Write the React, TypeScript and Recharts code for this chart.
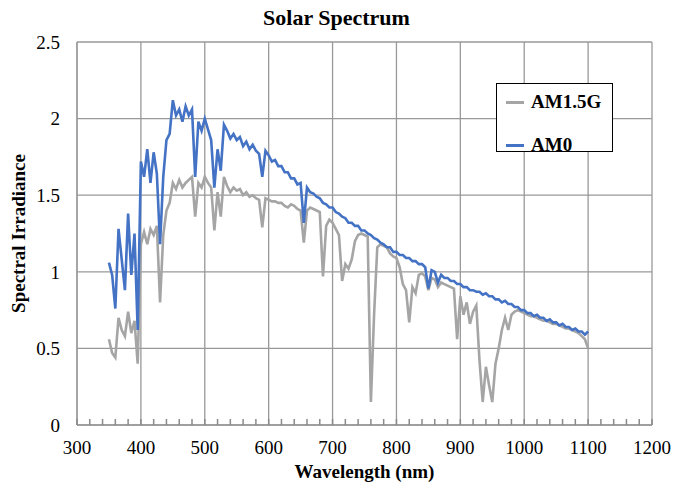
import { LineChart, Line, XAxis, YAxis, CartesianGrid, Legend } from "recharts";

document.body.style.margin = "0";

const wavelengths = [
  350, 355, 360, 365, 370, 375, 380, 385, 390, 395,
  400, 405, 410, 415, 420, 425, 430, 435, 440, 445,
  450, 455, 460, 465, 470, 475, 480, 485, 490, 495,
  500, 505, 510, 515, 520, 525, 530, 535, 540, 545,
  550, 555, 560, 565, 570, 575, 580, 585, 590, 595,
  600, 605, 610, 615, 620, 625, 630, 635, 640, 645,
  650, 655, 660, 665, 670, 675, 680, 685, 690, 695,
  700, 705, 710, 715, 720, 725, 730, 735, 740, 745,
  750, 755, 760, 765, 770, 775, 780, 785, 790, 795,
  800, 805, 810, 815, 820, 825, 830, 835, 840, 845,
  850, 855, 860, 865, 870, 875, 880, 885, 890, 895,
  900, 905, 910, 915, 920, 925, 930, 935, 940, 945,
  950, 955, 960, 965, 970, 975, 980, 985, 990, 995,
  1000, 1005, 1010, 1015, 1020, 1025, 1030, 1035, 1040, 1045,
  1050, 1055, 1060, 1065, 1070, 1075, 1080, 1085, 1090, 1095,
  1100,
];

const am15g = [
  0.56, 0.47, 0.44, 0.7, 0.62, 0.58, 0.74, 0.6, 0.68, 0.4,
  1.18, 1.26, 1.18, 1.28, 1.24, 1.3, 0.8, 1.24, 1.4, 1.45,
  1.58, 1.54, 1.6, 1.55, 1.58, 1.6, 1.62, 1.36, 1.58, 1.55,
  1.62, 1.58, 1.55, 1.27, 1.52, 1.36, 1.62, 1.56, 1.52, 1.55,
  1.53, 1.54, 1.5, 1.52, 1.49, 1.5, 1.48, 1.47, 1.29, 1.48,
  1.47, 1.46, 1.46, 1.45, 1.45, 1.43, 1.42, 1.44, 1.43, 1.41,
  1.4, 1.19, 1.4, 1.42, 1.41, 1.4, 1.39, 0.97, 1.3, 1.34,
  1.32, 1.28, 1.24, 0.94, 1.05, 1.02, 1.08, 1.2, 1.24, 1.25,
  1.24, 1.23, 0.15, 0.72, 1.16, 1.18, 1.17, 1.16, 1.12, 1.1,
  1.09, 1.03, 0.92, 0.88, 0.67, 0.9, 0.86, 0.98, 0.99, 0.97,
  0.88, 0.96, 0.95, 0.9, 0.93, 0.92, 0.91, 0.9, 0.89, 0.56,
  0.84, 0.72, 0.8, 0.66, 0.74, 0.78, 0.42, 0.15, 0.38, 0.26,
  0.15, 0.4, 0.5, 0.62, 0.7, 0.62, 0.72, 0.74, 0.75, 0.74,
  0.73, 0.72, 0.71, 0.71, 0.7, 0.69, 0.68, 0.68, 0.67, 0.66,
  0.66, 0.65, 0.64, 0.63, 0.63, 0.62, 0.61, 0.6, 0.58, 0.56,
  0.5,
];

const am0 = [
  1.06, 0.98, 0.76, 1.28, 1.08, 0.88, 1.38, 0.98, 1.25, 0.62,
  1.72, 1.62, 1.8, 1.58, 1.78, 1.64, 1.18, 1.62, 1.86, 1.9,
  2.12, 2.02, 2.06, 1.98, 2.08, 2.02, 2.06, 1.62, 1.98, 1.92,
  2.0, 1.93, 1.86, 1.55, 1.8, 1.66, 1.96, 1.92, 1.87, 1.9,
  1.86, 1.88, 1.82, 1.85, 1.8, 1.83, 1.79, 1.77, 1.62, 1.79,
  1.76, 1.72, 1.73, 1.69, 1.69, 1.65, 1.65, 1.61, 1.61, 1.57,
  1.58, 1.32, 1.55, 1.52, 1.51, 1.49, 1.48, 1.45, 1.44, 1.42,
  1.42, 1.39, 1.38, 1.36, 1.35, 1.32, 1.32, 1.3, 1.3, 1.27,
  1.27, 1.25, 1.24, 1.22, 1.21, 1.19, 1.18, 1.16, 1.16, 1.13,
  1.13, 1.11, 1.11, 1.09, 1.09, 1.07, 1.07, 1.05, 1.05, 1.03,
  0.89, 1.01, 1.0, 0.93, 0.98, 0.96, 0.96, 0.94, 0.94, 0.92,
  0.92, 0.9, 0.9, 0.88, 0.88, 0.87, 0.87, 0.85, 0.86, 0.84,
  0.84, 0.82, 0.82, 0.8, 0.81, 0.79, 0.79, 0.77, 0.77, 0.75,
  0.75, 0.73, 0.73, 0.71, 0.72, 0.7, 0.7, 0.68, 0.69, 0.67,
  0.67, 0.65, 0.66, 0.64, 0.64, 0.62, 0.63, 0.61, 0.61, 0.59,
  0.61,
];

// labelled grid positions, and the 20 nm minor ticks along the bottom axis
const xMajorTicks = [300, 400, 500, 600, 700, 800, 900, 1000, 1100, 1200];
const xAllTicks = [
  300, 320, 340, 360, 380, 400, 420, 440, 460, 480, 500, 520, 540, 560, 580,
  600, 620, 640, 660, 680, 700, 720, 740, 760, 780, 800, 820, 840, 860, 880,
  900, 920, 940, 960, 980, 1000, 1020, 1040, 1060, 1080, 1100, 1120, 1140,
  1160, 1180, 1200,
];
const yTicks = [0, 0.5, 1, 1.5, 2, 2.5];

const data = wavelengths.map((wl, i) => ({
  wl,
  "AM1.5G": am15g[i],
  AM0: am0[i],
}));

const FONT = "Liberation Serif";
const GRID = "#999999";

function LegendBox() {
  const row = (color: string, name: string, top: number) => (
    <div style={{ position: "absolute", left: 9, top, display: "flex", alignItems: "center", height: 24 }}>
      <div style={{ width: 18, height: 3, background: color, marginRight: 7 }} />
      <span style={{ fontWeight: "bold", fontSize: 19, color: "#000", fontFamily: FONT, lineHeight: "24px" }}>
        {name}
      </span>
    </div>
  );
  return (
    <div
      style={{
        position: "relative",
        border: "1.5px solid #000",
        background: "#fff",
        width: 115,
        height: 67,
        fontFamily: FONT,
      }}
    >
      {row("#a5a5a5", "AM1.5G", 6)}
      {row("#4472c4", "AM0", 49)}
    </div>
  );
}

function XTick(props: any) {
  const { x, y, payload } = props;
  const v = payload.value;
  const major = v % 100 === 0;
  return (
    <g>
      <line x1={x} x2={x} y1={y} y2={y - 6} stroke="#8a8a8a" strokeWidth={1.5} />
      {major && (
        <text x={x} y={y + 16} dy="0.71em" textAnchor="middle" fontSize={19} fontFamily={FONT} fill="#000">
          {v}
        </text>
      )}
    </g>
  );
}

function YTick(props: any) {
  const { x, y, payload } = props;
  return (
    <text x={x} y={y} dy="0.355em" textAnchor="end" fontSize={19} fontFamily={FONT} fill="#000">
      {payload.value}
    </text>
  );
}

export default function App() {
  return (
    <div style={{ position: "relative", width: 673, height: 484, background: "#fff", fontFamily: FONT }}>
      <div
        style={{
          position: "absolute",
          top: 5,
          left: 0,
          width: 673,
          textAlign: "center",
          fontWeight: "bold",
          fontSize: 22,
          fontFamily: FONT,
        }}
      >
        Solar Spectrum
      </div>
      <LineChart
        width={673}
        height={484}
        data={data}
        margin={{ top: 42, right: 21, bottom: 0, left: 0 }}
        style={{ fontFamily: FONT }}
      >
        <CartesianGrid stroke={GRID} strokeWidth={1.3} verticalValues={xMajorTicks} horizontalValues={yTicks} />
        <XAxis
          dataKey="wl"
          type="number"
          domain={[300, 1200]}
          ticks={xAllTicks}
          interval={0}
          height={59}
          tickSize={0}
          tickMargin={0}
          tickLine={false}
          axisLine={{ stroke: GRID, strokeWidth: 1.3 }}
          tick={<XTick />}
          label={{
            value: "Wavelength (nm)",
            position: "insideBottom",
            offset: 6,
            style: { fontWeight: "bold", fontSize: 19, fill: "#000", fontFamily: FONT },
          }}
        />
        <YAxis
          type="number"
          domain={[0, 2.5]}
          ticks={yTicks}
          interval={0}
          width={77}
          tickSize={0}
          tickMargin={17}
          tickLine={false}
          axisLine={{ stroke: GRID, strokeWidth: 1.3 }}
          tick={<YTick />}
          label={{
            value: "Spectral Irradiance",
            angle: -90,
            position: "insideLeft",
            offset: 18,
            style: { fontWeight: "bold", fontSize: 19, fill: "#000", textAnchor: "middle", fontFamily: FONT },
          }}
        />
        <Legend
          layout="vertical"
          align="center"
          verticalAlign="middle"
          content={() => <LegendBox />}
          wrapperStyle={{ left: 496, top: 83, width: "auto" }}
        />
        <Line
          dataKey="AM1.5G"
          stroke="#a5a5a5"
          strokeWidth={2.6}
          dot={false}
          type="linear"
          isAnimationActive={false}
        />
        <Line
          dataKey="AM0"
          stroke="#4472c4"
          strokeWidth={2.6}
          dot={false}
          type="linear"
          isAnimationActive={false}
        />
      </LineChart>
    </div>
  );
}
